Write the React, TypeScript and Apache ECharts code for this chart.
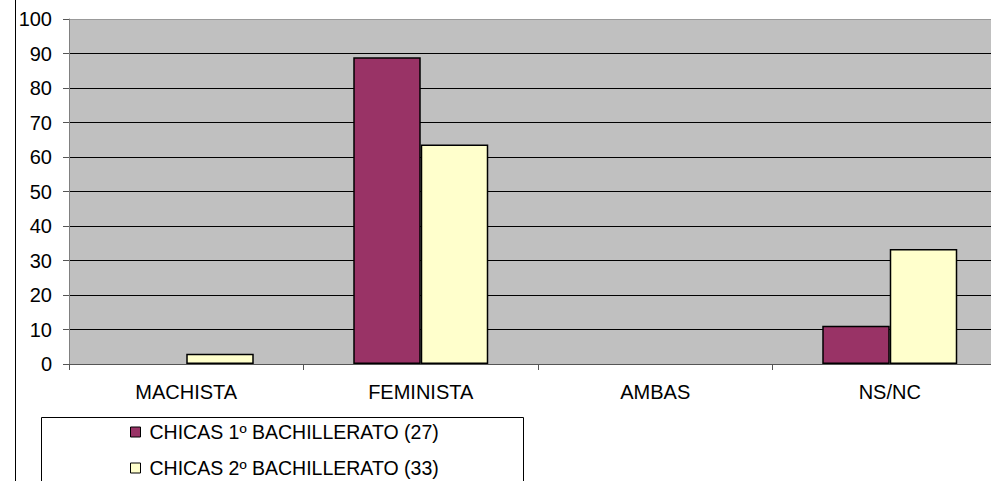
import React, { useEffect, useRef } from "react";
import * as echarts from "echarts";

const categories = ["MACHISTA", "FEMINISTA", "AMBAS", "NS/NC"];
const seriesNames = ["CHICAS 1º BACHILLERATO (27)", "CHICAS 2º BACHILLERATO (33)"];
const primero = [0, 88.9, 0, 11.1];
const segundo = [3.0, 63.6, 0, 33.3];
const seriesColors = ["#993366", "#FFFFCC"];

const FONT = 'Arial, "Liberation Sans", sans-serif';

const toData = (arr: number[]) =>
  arr.map((v) => (v === 0 ? { value: v, itemStyle: { borderWidth: 0 } } : v));

const legendBase = {
  orient: "vertical",
  left: 130,
  itemWidth: 10,
  itemHeight: 10,
  padding: 0,
  selectedMode: false,
  icon: "rect",
  itemStyle: { borderColor: "#000", borderWidth: 1 },
  textStyle: {
    fontFamily: FONT,
    fontSize: 19.5,
    color: "#000",
    lineHeight: 24,
    padding: [0, 0, 0, 4],
  },
  z: 5,
};

export default function App() {
  const ref = useRef<HTMLDivElement>(null);
  useEffect(() => {
    if (!ref.current) return;
    const chart = echarts.init(ref.current, undefined, { renderer: "svg" });
    const splitColors = Array.from({ length: 11 }, (_, i) => (i === 10 ? "#999999" : "#000000"));
    chart.setOption({
      animation: false,
      backgroundColor: "#ffffff",
      textStyle: { fontFamily: FONT },
      grid: {
        left: 69,
        top: 19,
        width: 938,
        height: 345,
        show: true,
        backgroundColor: "#C0C0C0",
        borderWidth: 0,
        containLabel: false,
        outerBoundsMode: "none",
      },
      graphic: [
        {
          type: "line",
          shape: { x1: 15.5, y1: 0, x2: 15.5, y2: 481 },
          style: { stroke: "#000", lineWidth: 1 },
          z: 10,
        },
        {
          type: "rect",
          shape: { x: 41.5, y: 417.5, width: 482, height: 100 },
          style: { stroke: "#000", lineWidth: 1, fill: "#fff" },
          z: 1,
        },
      ],
      legend: [
        { ...legendBase, top: 420, data: [seriesNames[0]] },
        { ...legendBase, top: 456, data: [seriesNames[1]] },
      ],
      xAxis: {
        type: "category",
        data: categories,
        boundaryGap: true,
        axisLine: { show: true, lineStyle: { color: "#555", width: 1 } },
        axisTick: { show: true, length: 6, lineStyle: { color: "#555" } },
        axisLabel: { color: "#000", fontSize: 20, fontFamily: FONT, margin: 18 },
        splitLine: { show: false },
      },
      yAxis: {
        type: "value",
        min: 0,
        max: 100,
        interval: 10,
        axisLine: { show: true, lineStyle: { color: "#808080", width: 1 } },
        axisTick: { show: true, length: 6, lineStyle: { color: "#555" } },
        axisLabel: { color: "#000", fontSize: 20, fontFamily: FONT, margin: 17 },
        splitLine: { show: true, lineStyle: { color: splitColors, width: 1 } },
      },
      series: [
        {
          name: seriesNames[0],
          type: "bar",
          data: toData(primero),
          barWidth: 67.5,
          barGap: "0%",
          itemStyle: { color: seriesColors[0], borderColor: "#000", borderWidth: 1.5 },
        },
        {
          name: seriesNames[1],
          type: "bar",
          data: toData(segundo),
          barWidth: 67.5,
          barGap: "0%",
          itemStyle: { color: seriesColors[1], borderColor: "#000", borderWidth: 1.5 },
        },
      ],
    });
    return () => chart.dispose();
  }, []);
  return (
    <div
      style={{
        position: "fixed",
        left: 0,
        top: 0,
        width: 991,
        height: 481,
        overflow: "hidden",
        background: "#fff",
      }}
    >
      <div ref={ref} style={{ width: 1010, height: 481 }} />
    </div>
  );
}
